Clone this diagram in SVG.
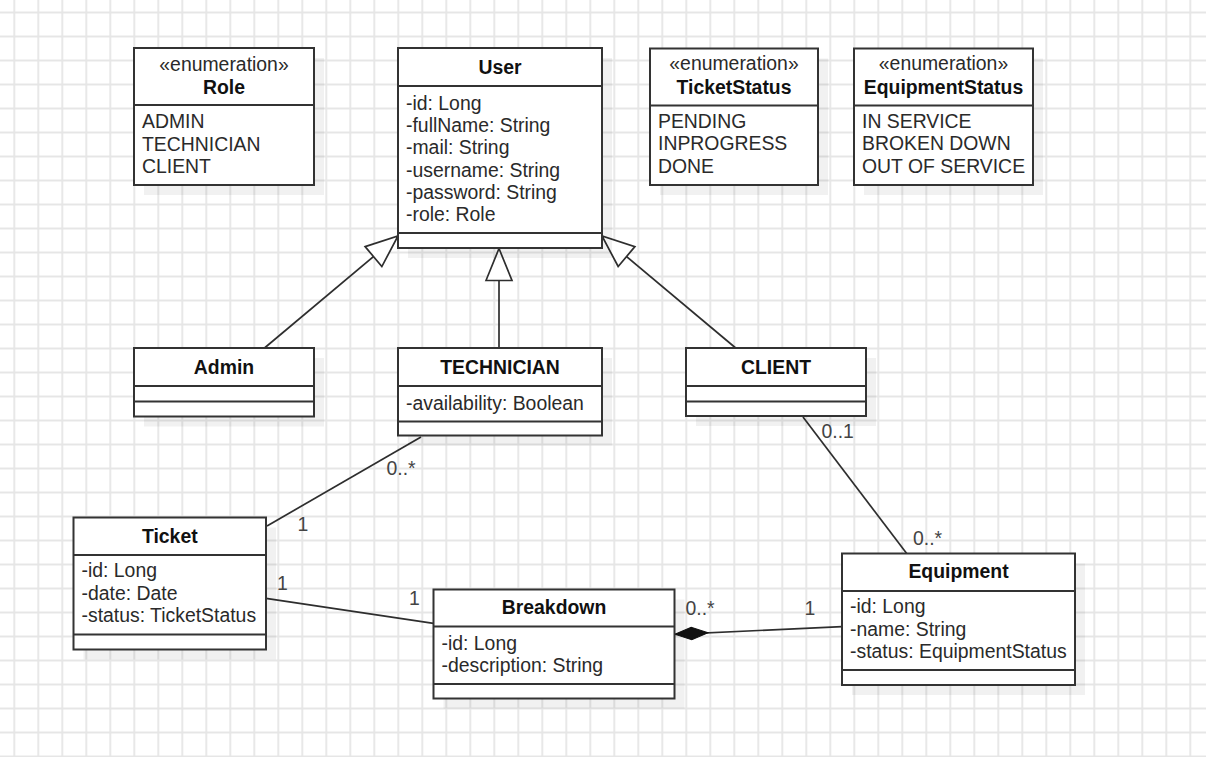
<svg xmlns="http://www.w3.org/2000/svg" width="1206" height="757" viewBox="0 0 1206 757">
<style>
text{font-family:"Liberation Sans",Arial,sans-serif;font-size:19.4px;fill:#2a2a2a}
.t{font-weight:bold;fill:#111;text-anchor:middle}
.s{text-anchor:middle;fill:#2a2a2a}
.box{fill:#fff;stroke:#333;stroke-width:2}
.div{stroke:#333;stroke-width:2}
.sh{fill:#000;fill-opacity:0.055}
.ln{stroke:#2e2e2e;stroke-width:1.7;fill:none}
.lbl{fill:#444}
</style>
<defs>
<pattern id="grid" width="24" height="24" patternUnits="userSpaceOnUse" x="2.3" y="0.5">
<path d="M12,0 V24 M0,12 H24" stroke="#e6e6e6" stroke-width="1.8" fill="none"/>
</pattern>
<marker id="gen" markerUnits="userSpaceOnUse" viewBox="-2 -2 36 30" markerWidth="36" markerHeight="30" refX="32" refY="13" orient="auto">
<path d="M0,0 L32,13 L0,26 z" fill="#fff" stroke="#2e2e2e" stroke-width="1.7"/>
</marker>
<marker id="comp" markerUnits="userSpaceOnUse" viewBox="-1 -1 36 16" markerWidth="36" markerHeight="16" refX="33" refY="7" orient="auto">
<path d="M0,7 L16.5,0.8 L33,7 L16.5,13.2 z" fill="#111" stroke="#111" stroke-width="1"/>
</marker>
</defs>
<rect x="0" y="0" width="1206" height="757" fill="#fff"/>
<rect x="0" y="0" width="1206" height="757" fill="url(#grid)"/>

<g id="connectors">
<line class="ln" x1="264.5" y1="348" x2="398" y2="236" marker-end="url(#gen)"/>
<line class="ln" x1="499" y1="348" x2="499" y2="248.5" marker-end="url(#gen)"/>
<line class="ln" x1="735.7" y1="348" x2="602" y2="236" marker-end="url(#gen)"/>
<line class="ln" x1="421" y1="437" x2="267" y2="526"/>
<line class="ln" x1="266" y1="598.3" x2="433.5" y2="623.3"/>
<line class="ln" x1="842" y1="626.7" x2="675" y2="634.3" marker-end="url(#comp)"/>
<line class="ln" x1="803" y1="417" x2="906.7" y2="553.5"/>
<text class="lbl" x="386.5" y="475">0..*</text>
<text class="lbl" x="297.5" y="531">1</text>
<text class="lbl" x="277" y="589.5">1</text>
<text class="lbl" x="409" y="605">1</text>
<text class="lbl" x="685.5" y="615">0..*</text>
<text class="lbl" x="804.5" y="614.5">1</text>
<text class="lbl" x="821.5" y="437.5">0..1</text>
<text class="lbl" x="913" y="545">0..*</text>
</g>

<g id="role">
<rect class="sh" x="144" y="58" width="180" height="137"/>
<rect class="box" x="134" y="48" width="180" height="137"/>
<line class="div" x1="134" y1="105" x2="314" y2="105"/>
<text class="s" x="224" y="71">«enumeration»</text>
<text class="t" x="224" y="94">Role</text>
<text x="142" y="128.3">ADMIN</text>
<text x="142" y="151">TECHNICIAN</text>
<text x="142" y="173.3">CLIENT</text>
</g>

<g id="user">
<rect class="sh" x="408" y="58" width="204" height="200"/>
<rect class="box" x="398" y="48" width="204" height="200"/>
<line class="div" x1="398" y1="86" x2="602" y2="86"/>
<line class="div" x1="398" y1="233" x2="602" y2="233"/>
<text class="t" x="500" y="74">User</text>
<text x="406" y="110">-id: Long</text>
<text x="406" y="132">-fullName: String</text>
<text x="406" y="154">-mail: String</text>
<text x="406" y="176.5">-username: String</text>
<text x="406" y="199">-password: String</text>
<text x="406" y="221">-role: Role</text>
</g>

<g id="ticketstatus">
<rect class="sh" x="660" y="58.5" width="168" height="136.5"/>
<rect class="box" x="650" y="48.5" width="168" height="136.5"/>
<line class="div" x1="650" y1="105.5" x2="818" y2="105.5"/>
<text class="s" x="734" y="70">«enumeration»</text>
<text class="t" x="734" y="93.5">TicketStatus</text>
<text x="658" y="127.5">PENDING</text>
<text x="658" y="150">INPROGRESS</text>
<text x="658" y="172.7">DONE</text>
</g>

<g id="equipmentstatus">
<rect class="sh" x="864" y="58.5" width="179" height="136.5"/>
<rect class="box" x="854" y="48.5" width="179" height="136.5"/>
<line class="div" x1="854" y1="105.5" x2="1033" y2="105.5"/>
<text class="s" x="943.5" y="70">«enumeration»</text>
<text class="t" x="943.5" y="93.5">EquipmentStatus</text>
<text x="862" y="127.5">IN SERVICE</text>
<text x="862" y="150">BROKEN DOWN</text>
<text x="862" y="172.7">OUT OF SERVICE</text>
</g>

<g id="admin">
<rect class="sh" x="144" y="358" width="180" height="68.5"/>
<rect class="box" x="134" y="348" width="180" height="68.5"/>
<line class="div" x1="134" y1="386" x2="314" y2="386"/>
<line class="div" x1="134" y1="401.5" x2="314" y2="401.5"/>
<text class="t" x="224" y="374">Admin</text>
</g>

<g id="technician">
<rect class="sh" x="408" y="358" width="204" height="87.5"/>
<rect class="box" x="398" y="348" width="204" height="87.5"/>
<line class="div" x1="398" y1="386" x2="602" y2="386"/>
<line class="div" x1="398" y1="421.5" x2="602" y2="421.5"/>
<text class="t" x="500" y="374">TECHNICIAN</text>
<text x="406" y="410">-availability: Boolean</text>
</g>

<g id="client">
<rect class="sh" x="696" y="358" width="180" height="68"/>
<rect class="box" x="686" y="348" width="180" height="68"/>
<line class="div" x1="686" y1="386" x2="866" y2="386"/>
<line class="div" x1="686" y1="401.5" x2="866" y2="401.5"/>
<text class="t" x="776" y="374">CLIENT</text>
</g>

<g id="ticket">
<rect class="sh" x="83.5" y="527.5" width="192.5" height="132"/>
<rect class="box" x="73.5" y="517.5" width="192.5" height="132"/>
<line class="div" x1="73.5" y1="555" x2="266" y2="555"/>
<line class="div" x1="73.5" y1="634.5" x2="266" y2="634.5"/>
<text class="t" x="169.8" y="542.7">Ticket</text>
<text x="81.5" y="577.3">-id: Long</text>
<text x="81.5" y="600">-date: Date</text>
<text x="81.5" y="622.3">-status: TicketStatus</text>
</g>

<g id="breakdown">
<rect class="sh" x="443.5" y="599.5" width="241" height="109"/>
<rect class="box" x="433.5" y="589.5" width="241" height="109"/>
<line class="div" x1="433.5" y1="626.5" x2="674.5" y2="626.5"/>
<line class="div" x1="433.5" y1="684" x2="674.5" y2="684"/>
<text class="t" x="554" y="614.3">Breakdown</text>
<text x="441.5" y="650">-id: Long</text>
<text x="441.5" y="672">-description: String</text>
</g>

<g id="equipment">
<rect class="sh" x="852" y="563.5" width="233" height="131.5"/>
<rect class="box" x="842" y="553.5" width="233" height="131.5"/>
<line class="div" x1="842" y1="591" x2="1075" y2="591"/>
<line class="div" x1="842" y1="670" x2="1075" y2="670"/>
<text class="t" x="958.5" y="578.3">Equipment</text>
<text x="850" y="613.3">-id: Long</text>
<text x="850" y="635.5">-name: String</text>
<text x="850" y="658.3">-status: EquipmentStatus</text>
</g>
</svg>
